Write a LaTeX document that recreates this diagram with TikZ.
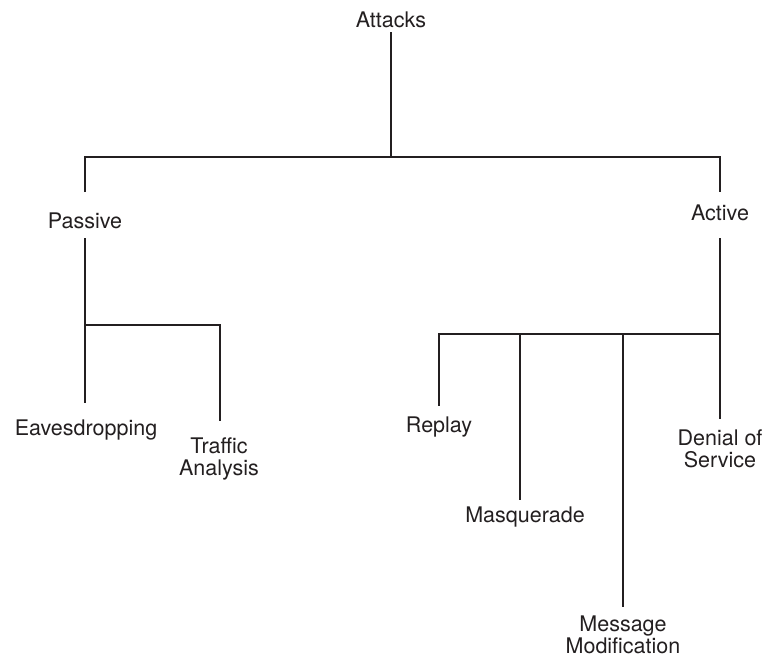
\documentclass[tikz,border=0pt]{standalone}
\usepackage{fontspec}
\setmainfont{TeX Gyre Heros}
\definecolor{ink}{HTML}{231F20}
\begin{document}
\begin{tikzpicture}[x=1pt,y=-1pt,
  lbl/.style={inner sep=0pt,anchor=base,text=ink,font=\fontsize{21.5}{22}\selectfont,align=center},
  wire/.style={draw=ink,line width=1.5pt}]
\useasboundingbox (0,0) rectangle (770,657);
% labels (positioned at baselines of last line)
\node[lbl] (attacks) at (391,27) {Attacks};
\node[lbl] (passive) at (85,228) {Passive};
\node[lbl] (active)  at (720,220) {Active};
\node[lbl] (eaves)   at (86,435) {Eavesdropping};
\node[lbl] (traffic) at (219,475) {Traffic\\Analysis};
\node[lbl] (replay)  at (439,432) {Replay};
\node[lbl] (masq)    at (525,522) {Masquerade};
\node[lbl] (denial)  at (720,467) {Denial of\\Service};
\node[lbl] (message) at (623,653) {Message\\Modification};
% junctions
\coordinate (jtop) at (391,157);
\coordinate (jpas) at (85,325);
\coordinate (jact) at (720,334);
% line ends near labels
\coordinate (attE) at (391,32);
\coordinate (pasN) at (85,192);
\coordinate (pasS) at (85,238);
\coordinate (actN) at (720,192);
\coordinate (actS) at (720,238);
\coordinate (eavN) at (85,403);
\coordinate (traN) at (220,421);
\coordinate (repN) at (439,406);
\coordinate (masN) at (520,500);
\coordinate (mesN) at (623,607);
\coordinate (denN) at (720,419);
% tree
\draw[wire] (attE) -- (jtop);
\draw[wire] (pasN) |- (jtop) -| (actN);
\draw[wire] (pasS) -- (jpas) -- (eavN);
\draw[wire] (jpas) -| (traN);
\draw[wire] (actS) -- (jact) -- (denN);
\draw[wire] (jact) -| (repN);
\draw[wire] (jact -| masN) -- (masN);
\draw[wire] (jact -| mesN) -- (mesN);
\end{tikzpicture}
\end{document}
